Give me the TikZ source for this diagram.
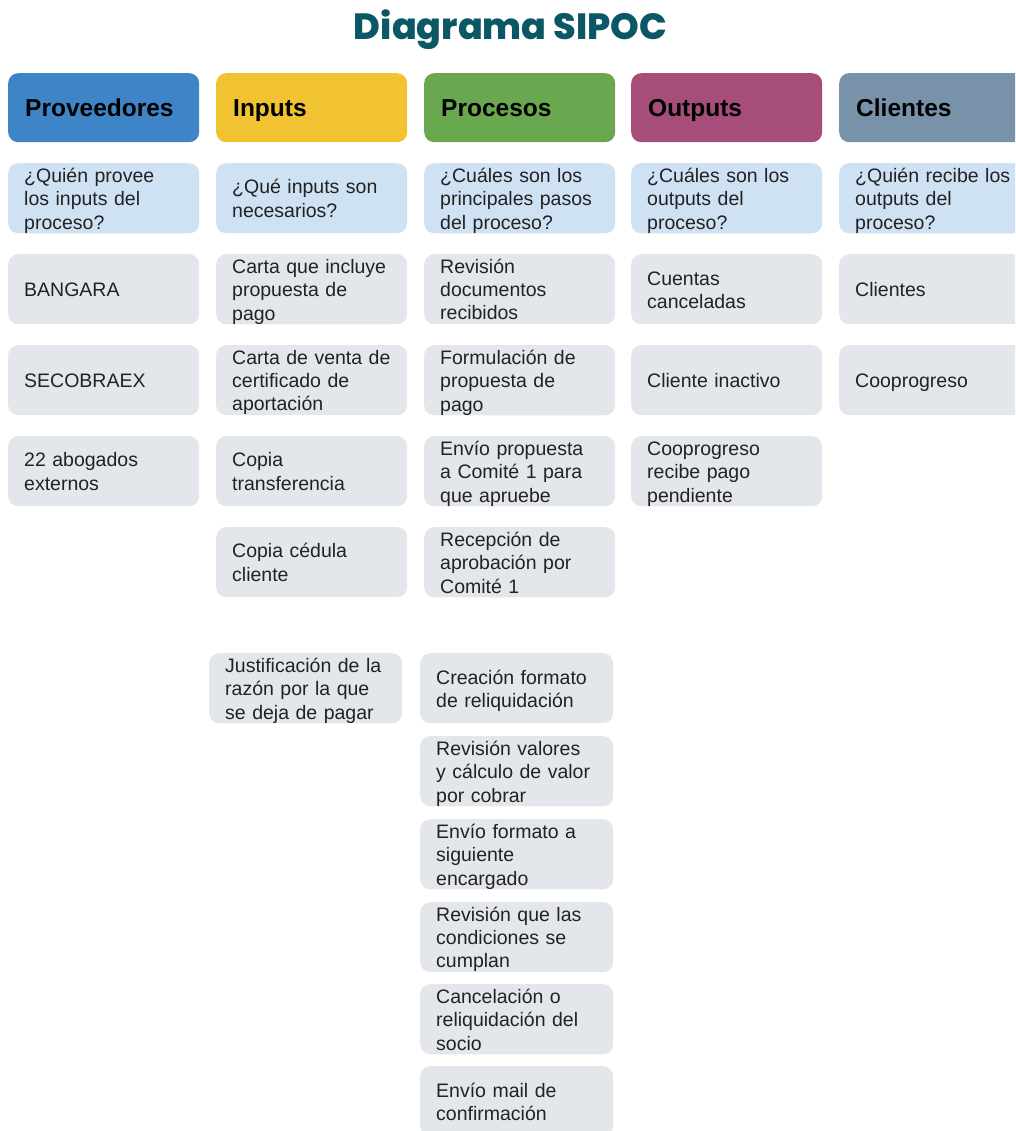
\documentclass[tikz,border=0pt]{standalone}
\usepackage{fontspec}
\setmainfont{Liberation Sans}
\newfontfamily\titlefont{Poppins ExtraBold}
\definecolor{ctitle}{HTML}{0B5766}
\definecolor{cprov}{HTML}{3D85C6}
\definecolor{cinp}{HTML}{F1C232}
\definecolor{cproc}{HTML}{6AA84F}
\definecolor{cout}{HTML}{A64D79}
\definecolor{ccli}{HTML}{7893A9}
\definecolor{cq}{HTML}{CFE2F3}
\definecolor{cbox}{HTML}{E3E7EB}
\definecolor{ctext}{HTML}{222222}
\newcommand\cellstrut{\rule[-4pt]{0pt}{23pt}}
\begin{document}
\begin{tikzpicture}[x=1pt,y=-1pt,
  header/.style={anchor=north west, rounded corners=10pt, minimum width=191pt, minimum height=69pt,
    inner xsep=17pt, inner ysep=0pt, text width=157pt, align=left,
    text height=20pt, text depth=3pt,
    font=\fontsize{24.5pt}{28pt}\selectfont\bfseries, text=black},
  cell/.style={anchor=north west, rounded corners=10pt, minimum height=70pt,
    inner xsep=16pt, inner ysep=0pt, text width=159pt, align=left,
    font=\fontsize{19.5pt}{23pt}\selectfont, text=ctext,
    execute at begin node=\cellstrut, execute at end node=\cellstrut},
  qcell/.style={cell, fill=cq},
  gcell/.style={cell, fill=cbox},
  wcell/.style={gcell, text width=161pt}]
\useasboundingbox (0,0) rectangle (1015,1131);
\clip (0,0) rectangle (1015,1131);
\node[font=\titlefont\fontsize{36.5pt}{40pt}\selectfont, text=ctitle, anchor=base] (title) at (510.5,40) {Diagrama SIPOC};
% headers
\node[header, fill=cprov] (h1) at (8,73) {Proveedores};
\node[header, fill=cinp] (h2) at (216,73) {Inputs};
\node[header, fill=cproc] (h3) at (424,73) {Procesos};
\node[header, fill=cout] (h4) at (631,73) {Outputs};
\node[header, fill=ccli] (h5) at (839,73) {Clientes};
% questions
\node[qcell] (q1) at (8,163) {¿Quién provee\\los inputs del\\proceso?};
\node[qcell] (q2) at (216,163) {¿Qué inputs son\\necesarios?};
\node[qcell] (q3) at (424,163) {¿Cuáles son los\\principales pasos\\del proceso?};
\node[qcell] (q4) at (631,163) {¿Cuáles son los\\outputs del\\proceso?};
\node[qcell] (q5) at (839,163) {¿Quién recibe los\\outputs del\\proceso?};
% proveedores
\node[gcell] (p1) at (8,254) {BANGARA};
\node[gcell] (p2) at (8,345) {SECOBRAEX};
\node[gcell] (p3) at (8,436) {22 abogados\\externos};
% inputs
\node[gcell] (i1) at (216,254) {Carta que incluye\\propuesta de\\pago};
\node[gcell] (i2) at (216,345) {Carta de venta de\\certificado de\\aportación};
\node[gcell] (i3) at (216,436) {Copia\\transferencia};
\node[gcell] (i4) at (216,527) {Copia cédula\\cliente};
\node[wcell] (i5) at (209,653) {Justificación de la\\razón por la que\\se deja de pagar};
% procesos
\node[gcell] (r1) at (424,254) {Revisión\\documentos\\recibidos};
\node[gcell] (r2) at (424,345) {Formulación de\\propuesta de\\pago};
\node[gcell] (r3) at (424,436) {Envío propuesta\\a Comité 1 para\\que apruebe};
\node[gcell] (r4) at (424,527) {Recepción de\\aprobación por\\Comité 1};
\node[wcell] (r5) at (420,653) {Creación formato\\de reliquidación};
\node[wcell] (r6) at (420,736) {Revisión valores\\y cálculo de valor\\por cobrar};
\node[wcell] (r7) at (420,819) {Envío formato a\\siguiente\\encargado};
\node[wcell] (r8) at (420,902) {Revisión que las\\condiciones se\\cumplan};
\node[wcell] (r9) at (420,984) {Cancelación o\\reliquidación del\\socio};
\node[wcell] (r10) at (420,1066) {Envío mail de\\confirmación};
% outputs
\node[gcell] (o1) at (631,254) {Cuentas\\canceladas};
\node[gcell] (o2) at (631,345) {Cliente inactivo};
\node[gcell] (o3) at (631,436) {Cooprogreso\\recibe pago\\pendiente};
% clientes
\node[gcell] (c1) at (839,254) {Clientes};
\node[gcell] (c2) at (839,345) {Cooprogreso};
\end{tikzpicture}
\end{document}
